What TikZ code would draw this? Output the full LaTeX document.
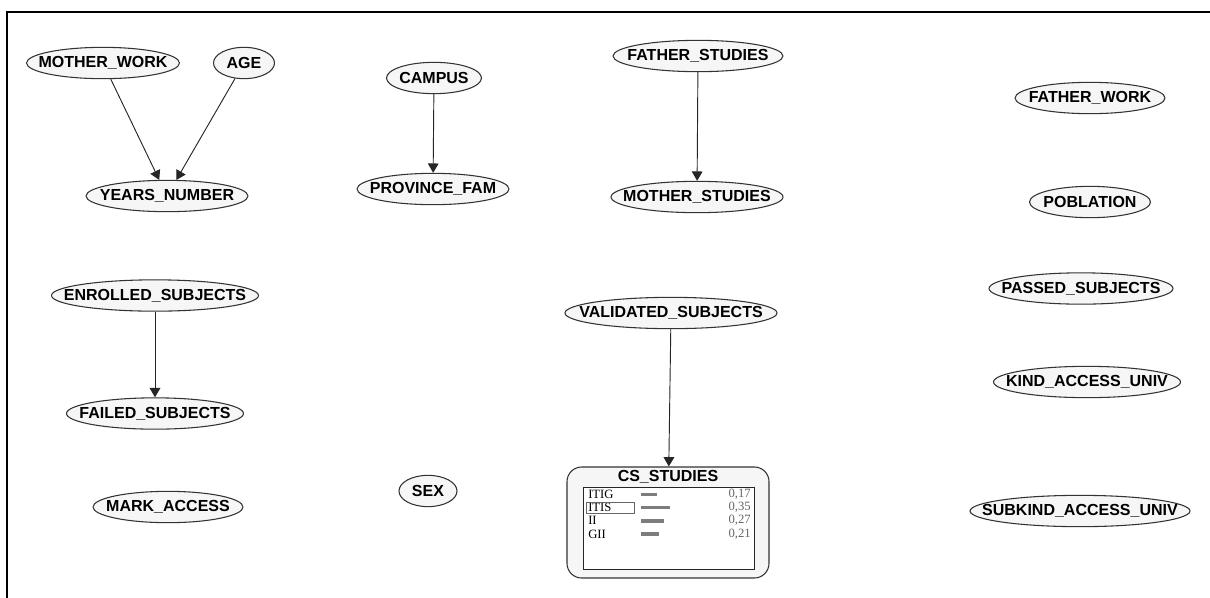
\documentclass[tikz,border=0pt]{standalone}
\usepackage{fontspec}
\setmainfont{Liberation Sans}
\newfontfamily\tabserif{Liberation Serif}
\usetikzlibrary{arrows.meta,shapes.geometric}
\definecolor{varfill}{RGB}{246,246,246}
\definecolor{bargray}{RGB}{125,125,125}

\begin{document}
\begin{tikzpicture}[x=0.75pt,y=-0.75pt,>={Triangle[length=7pt,width=8pt]},
  var/.style={ellipse,draw=black!80,fill=varfill,line width=0.8pt,inner xsep=-60pt,inner ysep=0pt,
    minimum height=23.5pt,font=\bfseries\fontsize{12}{13}\selectfont},
  wd/.style={minimum width=#1*0.75pt},
  edge/.style={->,draw=black!85,line width=0.7pt},
  row/.style={font=\tabserif\fontsize{9.5}{10}\selectfont,inner sep=0pt}]
  \useasboundingbox (0,0) rectangle (1210,597);
  \draw[line width=1.5pt] (7,600) |- (1213,12);

  % left column
  \node[var,wd=153] (mw) at (103,63) {MOTHER\_WORK};
  \node[var,wd=61] (age) at (244,63) {AGE};
  \node[var,wd=162] (yn) at (167,196) {YEARS\_NUMBER};
  \node[var,wd=207] (es) at (155,295.5) {ENROLLED\_SUBJECTS};
  \node[var,wd=177] (fs) at (155,413.5) {FAILED\_SUBJECTS};
  \node[var,wd=150] (ma) at (168,507) {MARK\_ACCESS};

  % middle
  \node[var,wd=95] (cp) at (434,78) {CAMPUS};
  \node[var,wd=152] (pf) at (433,189) {PROVINCE\_FAM};
  \node[var,wd=58] (sex) at (428,491) {SEX};
  \node[var,wd=170] (fst) at (698,56) {FATHER\_STUDIES};
  \node[var,wd=172] (mst) at (697,197) {MOTHER\_STUDIES};
  \node[var,wd=212] (vs) at (671,313) {VALIDATED\_SUBJECTS};

  % right column
  \node[var,wd=150] (fw) at (1090,98) {FATHER\_WORK};
  \node[var,wd=121] (pob) at (1090,202) {POBLATION};
  \node[var,wd=184] (ps) at (1081,288.5) {PASSED\_SUBJECTS};
  \node[var,wd=187] (ka) at (1087,382) {KIND\_ACCESS\_UNIV};
  \node[var,wd=220] (ska) at (1080,511) {SUBKIND\_ACCESS\_UNIV};

  % CS_STUDIES with its monitor
  \node[draw=black!80,fill=varfill,line width=0.8pt,rounded corners=11pt,
    minimum width=202*0.75pt,minimum height=111*0.75pt] (cs) at (668,522.5) {};
  \node[font=\bfseries\fontsize{12}{13}\selectfont,inner sep=0pt] (cstitle) at (668,477) {CS\_STUDIES};
  \node[draw=black!85,fill=white,line width=0.6pt,minimum width=171*0.75pt,
    minimum height=82*0.75pt] (cstab) at (668.5,528) {};
  \foreach \lab/\len/\val [count=\i] in {ITIG/16/{0,17},ITIS/29/{0,35},II/23/{0,27},GII/18/{0,21}}{
    \node[row,anchor=west] (lab\i) at (588,494+13.3*\i-13.3) {\lab};
    \fill[bargray] (641,492.5+13.3*\i-13.3) rectangle ++(\len,3.5);
    \node[row,anchor=east,text=black!60] (val\i) at (751,494+13.3*\i-13.3) {\val};
  }
  \draw[black!60,line width=0.5pt] (586,502.5) rectangle (634,513.5);

  \draw[edge] (mw) -- (yn);
  \draw[edge] (age) -- (yn);
  \draw[edge] (cp) -- (pf);
  \draw[edge] (fst) -- (mst);
  \draw[edge] (es) -- (fs);
  \draw[edge] (vs) -- (cs);
\end{tikzpicture}
\end{document}
